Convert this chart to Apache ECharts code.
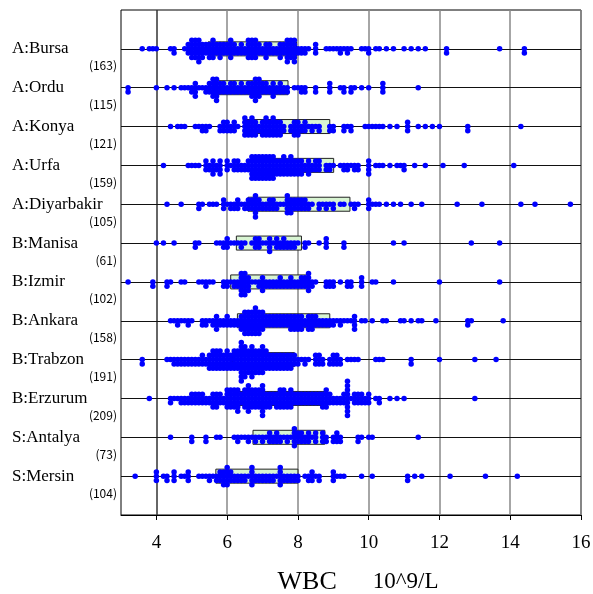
<!DOCTYPE html>
<html>
<head>
<meta charset="utf-8">
<script src="https://cdn.jsdelivr.net/npm/echarts@6/dist/echarts.min.js"></script>
<style>html,body{margin:0;padding:0;background:#fff}#c{width:593px;height:594px}</style>
</head>
<body>
<div id="c"></div>
<script>
// Categories (top to bottom) and sample sizes
const categories = ['A:Bursa','A:Ordu','A:Konya','A:Urfa','A:Diyarbakir','B:Manisa','B:Izmir','B:Ankara','B:Trabzon','B:Erzurum','S:Antalya','S:Mersin'];
const counts = [163,115,121,159,105,61,102,158,191,209,73,104];
// Box (Q1..Q3) per row
const q1 = [5.46,5.65,6.54,6.97,6.59,6.26,6.10,6.29,6.15,6.10,6.73,5.68];
const q3 = [7.96,7.72,8.90,9.01,9.47,8.10,8.29,8.90,7.90,8.80,8.76,8.00];
// x-axis tick labels
const xTicks = [4,6,8,10,12,14,16];

// WBC values per row as [value, number of subjects]
const bursa = [[3.6,1],[3.8,1],[3.9,1],[4.0,1],[4.4,1],[4.5,2],[4.8,1],
 [4.9,3],[5.0,5],[5.1,5],[5.2,6],[5.3,4],[5.4,3],
 [5.5,4],[5.6,5],[5.7,3],[5.8,4],[5.9,3],
 [6.0,3],[6.1,5],[6.2,3],[6.3,2],[6.4,3],
 [6.5,2],[6.6,5],[6.7,5],[6.8,5],[6.9,3],
 [7.0,2],[7.1,4],[7.2,3],[7.3,2],[7.4,2],
 [7.5,4],[7.6,3],[7.7,6],[7.8,5],[7.9,6],
 [8.0,2],[8.1,2],[8.2,2],[8.3,1],[8.5,3],[8.8,1],[8.9,1],[9.0,1],[9.1,1],[9.2,2],[9.3,1],[9.4,2],[9.5,1],
 [9.8,1],[9.9,1],[10.0,2],[10.2,1],[10.3,1],[10.5,1],[10.7,1],[11.0,1],[11.2,1],[11.4,1],[11.6,1],[12.2,2],[13.7,1],[14.4,2]];
const ordu = [[3.2,2],[4.0,1],[4.3,1],[4.5,1],[4.7,1],[4.8,1],[4.9,1],[5.0,2],[5.1,4],[5.2,1],[5.3,1],
 [5.4,2],[5.5,3],[5.6,5],[5.7,6],[5.8,3],[5.9,3],
 [6.0,2],[6.1,3],[6.2,3],[6.3,2],[6.4,3],[6.5,2],
 [6.6,3],[6.7,4],[6.8,6],[6.9,5],[7.0,3],
 [7.1,3],[7.2,2],[7.3,4],[7.4,2],[7.5,3],[7.6,2],[7.7,2],
 [7.9,1],[8.0,1],[8.1,2],[8.2,2],[8.5,2],[8.9,3],[9.2,1],[9.3,2],[9.5,2],[9.6,1],[9.8,1],[10.0,1],[10.4,3],[11.4,1]];
const konya = [[4.4,1],[4.6,1],[4.7,1],[4.8,1],[5.1,1],[5.2,1],[5.3,2],[5.4,2],[5.5,1],
 [5.8,2],[5.9,3],[6.0,3],[6.1,2],[6.2,3],[6.3,1],
 [6.5,5],[6.6,4],[6.7,5],[6.8,4],[6.9,2],
 [7.0,4],[7.1,5],[7.2,4],[7.3,5],[7.4,4],[7.5,4],[7.6,2],
 [7.8,2],[7.9,4],[8.0,4],[8.1,2],[8.2,3],[8.3,1],[8.4,2],[8.5,1],[8.6,2],
 [8.9,2],[9.0,2],[9.3,2],[9.4,1],[9.5,2],[9.9,1],[10.0,1],[10.1,1],[10.2,1],[10.3,1],[10.4,1],[10.6,1],[10.8,1],[11.1,3],[11.4,1],[11.6,1],[11.8,1],[12.0,1],[12.8,2],[14.3,1]];
const urfa = [[4.2,1],[4.9,1],[5.0,1],[5.1,1],[5.2,1],[5.4,3],[5.5,2],[5.6,4],[5.7,2],[5.8,4],
 [6.0,3],[6.1,1],[6.2,3],[6.3,3],[6.4,2],[6.5,2],
 [6.6,3],[6.7,6],[6.8,6],[6.9,6],[7.0,6],[7.1,6],[7.2,6],[7.3,6],[7.4,4],
 [7.5,4],[7.6,5],[7.7,4],[7.8,5],[7.9,4],[8.0,4],[8.1,4],
 [8.2,2],[8.3,4],[8.4,2],[8.5,3],[8.6,3],[8.8,2],[8.9,2],[9.0,1],
 [9.2,1],[9.3,2],[9.4,2],[9.5,1],[9.6,2],[9.7,2],[10.0,4],[10.2,1],[10.3,1],[10.4,1],[10.6,1],[10.8,1],[10.9,1],[11.0,2],[11.3,1],[11.6,1],[12.1,1],[12.7,1],[14.1,1]];
const diyarbakir = [[4.3,1],[4.7,1],[5.2,2],[5.3,1],[5.5,1],[5.6,1],[5.7,1],[5.9,3],[6.0,1],[6.1,2],[6.2,2],[6.3,3],[6.4,1],[6.5,2],
 [6.6,3],[6.7,3],[6.8,6],[6.9,3],[7.0,2],[7.1,2],[7.2,3],[7.3,3],[7.4,2],[7.5,1],[7.6,1],
 [7.7,5],[7.8,4],[7.9,3],[8.0,3],[8.1,3],[8.2,3],[8.3,2],[8.4,1],
 [8.6,2],[8.7,1],[8.8,2],[8.9,1],[9.0,2],[9.2,1],[9.3,1],[9.5,1],[9.6,2],[9.7,1],
 [10.0,3],[10.1,1],[10.2,1],[10.3,1],[10.5,1],[10.7,1],[10.9,1],[11.2,1],[11.5,1],[12.5,1],[13.2,1],[14.3,1],[14.7,1],[15.7,1]];
const manisa = [[4.0,1],[4.2,1],[4.5,1],[5.1,2],[5.2,1],[5.7,1],[5.8,1],[5.9,2],[6.0,3],[6.1,1],[6.2,1],[6.3,1],[6.4,2],[6.5,1],[6.7,1],
 [6.8,3],[6.9,3],[7.0,1],[7.1,1],[7.2,4],[7.3,1],[7.4,3],[7.5,2],[7.6,3],[7.7,2],[7.8,2],[7.9,2],
 [8.0,1],[8.2,2],[8.3,1],[8.6,1],[8.8,3],[9.3,2],[10.7,1],[11.0,1],[12.9,1],[13.7,1]];
const izmir = [[3.2,1],[3.9,2],[4.3,2],[4.4,1],[4.7,1],[4.8,1],[5.2,1],[5.3,1],[5.4,2],[5.5,1],[5.6,1],
 [5.9,2],[6.0,2],[6.1,1],[6.2,2],[6.3,2],[6.4,6],[6.5,6],[6.6,4],[6.7,1],[6.8,1],[6.9,2],[7.0,4],[7.1,2],[7.2,2],
 [7.3,2],[7.4,2],[7.5,3],[7.6,2],[7.7,2],[7.8,3],[7.9,2],[8.0,2],[8.1,3],[8.2,3],[8.3,5],[8.4,2],
 [8.5,1],[8.8,2],[8.9,2],[9.0,2],[9.2,1],[9.4,2],[9.5,2],[9.8,3],[10.1,1],[10.2,1],[10.7,1],[12.0,1],[13.7,1]];
const ankara = [[4.4,1],[4.5,1],[4.6,2],[4.7,1],[4.8,1],[4.9,2],[5.0,1],[5.3,2],[5.4,2],[5.5,1],[5.6,2],[5.7,4],[5.8,2],[5.9,2],
 [6.0,3],[6.1,2],[6.2,2],[6.3,2],[6.4,4],[6.5,6],[6.6,6],[6.7,6],[6.8,7],[6.9,6],[7.0,5],[7.1,3],
 [7.2,3],[7.3,3],[7.4,3],[7.5,3],[7.6,3],[7.7,3],[7.8,4],[7.9,4],[8.0,4],[8.1,4],
 [8.2,2],[8.3,4],[8.4,4],[8.5,3],[8.6,2],[8.7,2],[8.8,2],[8.9,2],[9.0,2],[9.1,1],[9.2,2],[9.3,1],[9.4,1],[9.5,1],[9.6,4],[9.8,1],[9.9,1],[10.1,1],
 [10.4,1],[10.5,1],[10.9,1],[11.0,1],[11.2,1],[11.4,1],[11.5,1],[11.9,1],[12.8,2],[12.9,1],[13.8,1]];
const trabzon = [[3.6,2],[4.3,1],[4.4,1],[4.5,2],[4.6,2],[4.7,2],[4.8,2],[4.9,2],[5.0,2],[5.1,2],[5.2,2],[5.3,3],[5.4,2],
 [5.5,4],[5.6,5],[5.7,5],[5.8,5],[5.9,4],[6.0,5],[6.1,4],[6.2,5],[6.3,5],
 [6.4,10],[6.5,8],[6.6,6],[6.7,8],[6.8,6],[6.9,6],[7.0,7],[7.1,5],
 [7.2,4],[7.3,4],[7.4,4],[7.5,4],[7.6,4],[7.7,4],[7.8,4],[7.9,3],
 [8.0,2],[8.1,1],[8.2,2],[8.3,1],[8.5,3],[8.6,3],[8.7,2],[8.9,2],[9.0,3],[9.1,3],[9.2,2],[9.4,1],[9.5,1],[9.6,1],[9.7,1],[10.2,1],[10.3,1],[10.4,1],[11.2,2],[12.0,1],[13.0,1],[13.6,1]];
const erzurum = [[3.8,1],[4.4,2],[4.5,1],[4.6,1],[4.7,2],[4.8,2],[4.9,2],[5.0,3],[5.1,3],[5.2,3],[5.3,3],[5.4,2],
 [5.5,2],[5.6,4],[5.7,4],[5.8,3],[5.9,2],[6.0,5],[6.1,5],[6.2,5],[6.3,6],[6.4,3],
 [6.5,5],[6.6,7],[6.7,5],[6.8,5],[6.9,5],[7.0,8],[7.1,4],[7.2,4],[7.3,3],
 [7.4,4],[7.5,5],[7.6,5],[7.7,4],[7.8,5],[7.9,3],[8.0,3],[8.1,3],[8.2,3],[8.3,3],
 [8.4,3],[8.5,3],[8.6,3],[8.7,4],[8.8,5],[8.9,3],[9.0,2],[9.1,2],[9.2,2],[9.3,3],[9.4,9],[9.5,1],
 [9.6,3],[9.7,3],[9.8,3],[9.9,2],[10.0,3],[10.2,1],[10.3,2],[10.6,1],[10.8,1],[11.0,1],[13.0,1]];
const antalya = [[4.4,1],[5.0,2],[5.4,2],[5.7,1],[5.8,1],[6.2,1],[6.3,2],[6.4,1],[6.5,1],[6.6,2],[6.7,1],[6.8,2],[6.9,1],[7.0,2],
 [7.1,1],[7.2,3],[7.3,2],[7.4,3],[7.5,2],[7.6,1],[7.7,2],[7.8,1],[7.9,5],[8.0,3],[8.1,3],[8.2,2],[8.3,3],[8.4,1],
 [8.5,3],[8.7,3],[8.8,2],[9.0,2],[9.1,3],[9.2,2],[9.7,2],[9.8,1],[10.0,1],[10.1,1],[11.4,1]];
const mersin = [[3.4,1],[4.0,3],[4.2,1],[4.3,2],[4.5,3],[4.7,1],[4.8,1],[4.9,3],[5.2,1],[5.3,1],[5.4,1],[5.5,2],[5.6,1],
 [5.7,2],[5.8,3],[5.9,4],[6.0,5],[6.1,3],[6.2,2],[6.3,2],[6.4,2],[6.5,2],[6.6,1],[6.7,5],
 [6.8,2],[6.9,2],[7.0,2],[7.1,2],[7.2,2],[7.3,2],[7.4,1],[7.5,5],[7.6,2],[7.7,2],[7.8,2],[7.9,2],[8.0,2],
 [8.2,1],[8.3,2],[8.4,3],[8.5,1],[8.6,2],[9.0,3],[9.1,1],[9.2,1],[9.3,1],[9.8,1],[10.1,1],[11.1,2],[11.3,1],[11.5,1],[12.3,1],[13.3,1],[14.2,1]];

const rows = [bursa, ordu, konya, urfa, diyarbakir, manisa, izmir, ankara, trabzon, erzurum, antalya, mersin];

const STEP = 0.11; // vertical stacking step in row units
const dots = [];
rows.forEach((arr, i) => {
  arr.forEach(([v, n]) => {
    for (let k = 0; k < n; k++) {
      const m = Math.ceil(k / 2) * (k % 2 === 1 ? 1 : -1);
      dots.push([v, i + 1 + m * STEP]);
    }
  });
});
const boxes = categories.map((c, i) => [q1[i], q3[i], i + 1]);
const rowVals = categories.map((c, i) => i + 1);

const chart = echarts.init(document.getElementById('c'), null, {renderer: 'canvas'});
chart.setOption({
  animation: false,
  backgroundColor: '#fff',
  grid: {left: 121, right: 12, top: 10, bottom: 79, containLabel: false, outerBoundsMode: 'none',
         show: true, borderColor: '#000', borderWidth: 1, backgroundColor: 'transparent'},
  xAxis: {
    type: 'value', min: 3, max: 16,
    axisLine: {show: true, onZero: false, lineStyle: {color: '#000', width: 1}},
    axisTick: {show: true, customValues: xTicks, length: 5, lineStyle: {color: '#000'}},
    axisLabel: {customValues: xTicks, fontFamily: 'Liberation Serif', fontSize: 19, color: '#000', margin: 19},
    splitLine: {show: true, lineStyle: {color: ['#333', '#888', '#888', '#888', '#888', '#888', '#888'], width: 1.5}},
    name: '{a|WBC}{b|10^9/L}',
    nameLocation: 'middle',
    nameGap: 54,
    nameTextStyle: {
      padding: [0, 0, 0, 14],
      rich: {
        a: {fontFamily: 'Liberation Serif', fontSize: 26, color: '#000', padding: [0, 36, 0, 0]},
        b: {fontFamily: 'Liberation Serif', fontSize: 23, color: '#000'}
      }
    }
  },
  yAxis: {
    type: 'value', min: 0, max: 13, inverse: true,
    axisLine: {show: false}, axisTick: {show: false}, splitLine: {show: false},
    axisLabel: {
      customValues: rowVals,
      margin: 109, align: 'left', width: 105,
      padding: [14, 0, 0, 0],
      formatter: (v) => {
        const i = Math.round(v) - 1;
        return '{n|' + categories[i] + '}\n{c|(' + counts[i] + ')}';
      },
      rich: {
        n: {fontFamily: 'Liberation Serif', fontSize: 17, lineHeight: 20, color: '#000'},
        c: {fontFamily: 'Noto Sans CJK JP', fontSize: 12, lineHeight: 14, color: '#000', align: 'right'}
      }
    }
  },
  series: [
    {
      type: 'custom',
      z: 2,
      silent: true,
      encode: {x: [0, 1], y: 2},
      data: boxes,
      renderItem: (params, api) => {
        const p1 = api.coord([api.value(0), api.value(2)]);
        const p2 = api.coord([api.value(1), api.value(2)]);
        return {
          type: 'rect',
          shape: {x: p1[0], y: p1[1] - 7, width: p2[0] - p1[0], height: 14},
          style: {fill: '#d8f4d2', stroke: '#222', lineWidth: 1}
        };
      },
      markLine: {
        silent: true, symbol: 'none', z: 1,
        label: {show: false},
        lineStyle: {color: '#111', width: 1.2, type: 'solid'},
        data: rowVals.map(v => ({yAxis: v}))
      }
    },
    {
      type: 'scatter',
      z: 3,
      silent: true,
      symbolSize: 5.5,
      itemStyle: {color: '#0000ff', opacity: 1},
      data: dots
    }
  ]
});
</script>
</body>
</html>
